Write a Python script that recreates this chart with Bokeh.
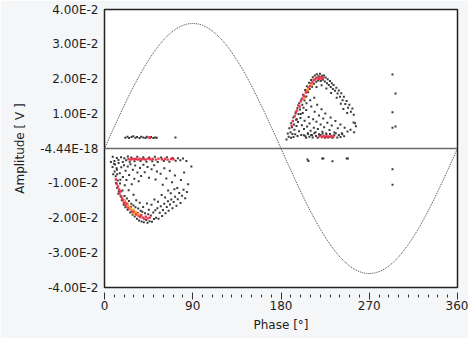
from bokeh.plotting import figure
from bokeh.models import FixedTicker, Span, ColumnDataSource
from bokeh.embed import file_html
from bokeh.resources import INLINE

# ---------------- data ----------------
phase_ticks = [0, 90, 180, 270, 360]
phase_minor_ticks = list(range(0, 361, 10))
amp_ticks = [-0.04, -0.03, -0.02, -0.01, 0.0, 0.01, 0.02, 0.03, 0.04]
amp_tick_labels = ["-4.00E-2", "-3.00E-2", "-2.00E-2", "-1.00E-2", "-4.44E-18",
                   "1.00E-2", "2.00E-2", "3.00E-2", "4.00E-2"]

# reference sine (mV), every 5 degrees
sine_phase = list(range(0, 361, 5))
sine_mv = [0, 3.14, 6.25, 9.32, 12.31, 15.21, 18.00, 20.65, 23.14, 25.46, 27.58, 29.49,
           31.18, 32.63, 33.83, 34.77, 35.45, 35.86, 36.00,
           35.86, 35.45, 34.77, 33.83, 32.63, 31.18, 29.49, 27.58, 25.46, 23.14, 20.65,
           18.00, 15.21, 12.31, 9.32, 6.25, 3.14, 0,
           -3.14, -6.25, -9.32, -12.31, -15.21, -18.00, -20.65, -23.14, -25.46, -27.58,
           -29.49, -31.18, -32.63, -33.83, -34.77, -35.45, -35.86, -36.00,
           -35.86, -35.45, -34.77, -33.83, -32.63, -31.18, -29.49, -27.58, -25.46, -23.14,
           -20.65, -18.00, -15.21, -12.31, -9.32, -6.25, -3.14, 0]

# PD pulses (phase in degrees, amplitude in mV); low count = black
neg_curve_black = [(6.5, -3.9), (8.2, -5.3), (9.6, -4.4), (10.3, -6.6), (8.9, -7.4), (11.4, -8.0),
                   (12.7, -6.1), (11.8, -9.9), (13.5, -9.2), (12.9, -11.3), (14.6, -12.4),
                   (15.8, -10.1), (16.4, -13.6), (14.1, -13.0), (17.7, -14.9), (18.3, -12.1),
                   (19.6, -16.2), (20.4, -13.7), (21.3, -16.9), (22.8, -14.4), (23.5, -17.6),
                   (24.9, -15.1), (26.2, -18.4), (27.4, -15.9), (28.7, -19.1), (29.5, -16.4),
                   (30.8, -19.6), (31.6, -16.9), (33.1, -20.2), (34.4, -17.3), (35.2, -20.7),
                   (36.9, -17.9), (37.8, -21.0), (38.6, -18.2), (40.1, -21.2), (41.3, -18.6),
                   (42.5, -20.6), (43.8, -21.4), (44.6, -18.9), (45.9, -20.9), (47.2, -19.3),
                   (48.4, -21.1), (49.7, -18.4), (50.5, -20.3), (51.8, -17.8), (52.6, -19.9),
                   (53.9, -17.2), (55.1, -20.2), (56.3, -18.5), (57.4, -16.6), (58.8, -19.4),
                   (59.6, -17.7), (60.9, -15.9), (62.2, -18.6), (63.5, -16.8), (64.7, -15.2),
                   (65.4, -17.9), (66.8, -16.1), (68.1, -14.7), (69.3, -17.2), (70.6, -15.4),
                   (72.0, -13.9), (73.4, -16.5), (74.7, -14.6), (76.2, -12.8), (77.5, -15.7),
                   (79.1, -13.6), (80.6, -11.9), (82.3, -14.3), (84.0, -12.5), (45.2, -17.6),
                   (39.4, -16.8), (47.9, -16.2), (54.6, -15.3), (61.8, -14.1), (67.5, -12.9),
                   (58.3, -13.4), (50.9, -14.7), (43.3, -15.8), (71.3, -11.7), (35.9, -15.6),
                   (32.4, -14.9)]
neg_inner_black = [(10.8, -4.6), (12.3, -5.7), (14.4, -4.2), (15.6, -7.1), (17.1, -5.4), (18.8, -8.2),
                   (19.9, -4.8), (21.5, -6.4), (22.4, -9.1), (23.7, -5.2), (25.1, -7.6), (26.5, -4.5),
                   (27.8, -10.3), (28.9, -6.1), (30.4, -8.7), (31.3, -4.9), (33.6, -6.9),
                   (34.9, -9.4), (36.2, -5.6), (37.3, -7.9), (39.7, -4.7), (41.0, -6.8),
                   (43.9, -5.3), (45.3, -8.4), (48.0, -6.0), (50.7, -4.8), (52.1, -8.9),
                   (53.5, -6.6), (57.2, -7.3), (59.4, -10.4), (61.0, -5.7), (63.1, -8.6),
                   (64.9, -12.1), (66.6, -6.4), (68.9, -9.7), (71.8, -7.8), (74.2, -11.4),
                   (77.9, -9.1), (81.2, -6.9), (85.3, -10.3), (88.6, -5.2), (16.2, -9.0),
                   (20.7, -10.6), (24.6, -12.0), (29.6, -13.3), (12.9, -7.4)]
neg_stripe_black = [(8.4, -2.4), (10.1, -3.6), (12.6, -2.7), (14.2, -3.3), (16.9, -2.5), (18.7, -3.9),
                    (20.3, -2.8), (22.1, -3.4), (23.8, -2.3), (25.7, -3.8), (27.3, -2.6), (30.6, -3.7),
                    (33.4, -2.4), (36.7, -3.6), (39.5, -2.5), (42.8, -3.8), (45.6, -2.6), (48.7, -3.7),
                    (51.4, -2.4), (54.3, -3.9), (57.8, -2.6), (60.5, -3.6), (63.6, -2.5), (66.2, -3.8),
                    (69.4, -2.7), (72.6, -3.5), (74.9, -2.8), (77.3, -3.4), (80.1, -2.9), (83.5, -3.6)]
pos_stripe_black = [(21.2, 3.1), (23.4, 3.4), (25.1, 3.0), (27.6, 3.3), (29.3, 3.5), (31.5, 3.1),
                    (33.2, 3.3), (35.7, 3.0), (37.4, 3.4), (39.6, 3.2), (41.8, 3.0), (43.1, 3.4),
                    (47.5, 3.3), (49.8, 3.0), (51.6, 3.2), (53.3, 3.1), (72.4, 3.2)]
pos_arc_black = [(185.6, 2.6), (186.9, 4.3), (187.8, 3.4), (188.5, 5.8), (189.7, 4.7), (190.4, 7.3),
                 (191.2, 6.1), (192.6, 8.9), (193.3, 6.9), (194.8, 10.1), (195.5, 8.3), (196.7, 11.6),
                 (197.9, 9.9), (198.6, 13.0), (199.4, 11.2), (200.8, 14.1), (201.7, 12.6),
                 (202.5, 15.5), (203.9, 13.8), (204.6, 16.8), (205.8, 15.0), (206.4, 17.9),
                 (207.7, 16.2), (208.5, 18.9), (209.3, 17.1), (210.6, 19.7), (211.8, 17.8),
                 (212.4, 20.5), (213.7, 18.6), (214.5, 21.0), (215.9, 19.2), (216.6, 21.4),
                 (217.8, 19.6), (218.4, 20.8), (219.7, 21.5), (220.5, 19.4), (221.9, 20.9),
                 (222.6, 19.8), (223.8, 21.0), (224.7, 19.3), (225.5, 20.4), (226.9, 18.8),
                 (227.6, 19.9), (228.8, 18.3), (229.9, 19.4), (230.7, 17.7), (231.8, 18.8),
                 (232.9, 17.1), (233.6, 18.3), (235.1, 16.6), (236.4, 17.5), (237.7, 15.8),
                 (238.9, 16.7), (240.2, 14.9), (241.5, 15.9), (242.8, 13.9), (244.1, 14.9),
                 (245.6, 12.8), (246.9, 13.7), (248.4, 11.7), (249.7, 12.6), (251.3, 10.6),
                 (252.8, 11.5), (254.2, 9.7), (255.6, 7.3), (256.4, 6.4), (241.0, 12.9),
                 (236.8, 14.6), (231.1, 16.0), (226.3, 17.3), (221.4, 18.2), (216.2, 17.7),
                 (243.6, 11.4), (247.5, 10.2)]
pos_inner_black = [(190.2, 3.1), (191.6, 4.2), (192.8, 3.3), (193.7, 5.4), (194.5, 4.1), (195.8, 6.5),
                   (196.9, 3.6), (197.3, 7.6), (198.4, 5.0), (199.8, 8.8), (200.6, 3.9), (201.3, 6.7),
                   (202.2, 10.2), (203.4, 5.6), (204.1, 8.0), (204.9, 3.5), (205.7, 11.1),
                   (206.6, 6.3), (207.4, 4.4), (208.3, 9.1), (209.1, 7.2), (210.2, 5.1), (210.9, 12.1),
                   (211.7, 3.8), (212.8, 8.4), (213.5, 6.0), (214.3, 10.6), (215.2, 4.7), (216.1, 7.7),
                   (216.9, 12.6), (217.6, 5.6), (218.7, 9.5), (219.5, 3.9), (220.4, 6.9),
                   (221.3, 11.3), (222.2, 4.8), (223.1, 8.6), (224.0, 6.1), (225.2, 10.1),
                   (226.1, 4.3), (227.3, 7.4), (229.4, 5.3), (230.6, 8.9), (231.7, 6.6),
                   (234.4, 4.6), (235.5, 7.9), (237.9, 5.8), (240.6, 6.9), (242.0, 4.4),
                   (244.9, 6.0), (247.8, 4.9), (250.9, 5.4), (254.6, 4.7), (196.1, 8.4),
                   (200.1, 9.9), (203.0, 11.7), (206.0, 13.0), (209.8, 13.9), (213.9, 14.6)]
pos_base_black = [(203.4, 3.8), (205.6, 3.1), (207.5, 4.2), (208.9, 3.4), (210.7, 3.9), (212.3, 3.2),
                  (214.0, 4.4), (215.7, 3.6), (217.4, 3.1), (218.8, 4.1), (220.3, 3.9), (222.4, 4.3),
                  (224.6, 3.1), (226.2, 4.0), (228.1, 3.2), (230.0, 4.2), (232.3, 3.1), (234.3, 3.8),
                  (235.8, 4.4), (237.4, 3.2), (239.0, 3.9), (240.7, 3.3), (242.5, 4.1), (244.4, 3.5)]
isolated_black = [(293.7, 21.3), (296.8, 15.8), (293.7, 10.4), (293.7, 6.0), (296.8, 6.3),
                  (293.7, -6.0), (293.7, -10.4), (254.0, 7.5), (207.0, -3.2), (208.0, -3.6),
                  (232.5, -3.7), (222.0, -2.9), (223.2, -2.9), (247.0, -2.9), (248.2, -2.9)]

# medium count = red
neg_red = [(24.5, -3.0), (26.8, -3.2), (28.4, -2.9), (30.0, -3.1), (31.9, -3.0), (34.1, -3.2),
           (35.8, -2.9), (37.9, -3.1), (40.4, -3.0), (42.0, -3.2), (44.3, -2.9), (46.7, -3.1),
           (49.2, -3.0), (52.5, -3.2), (55.1, -2.9), (58.6, -3.1), (61.7, -3.0), (64.4, -3.2),
           (67.8, -3.0), (70.3, -3.1),
           (11.6, -8.9), (12.5, -10.2), (13.8, -10.9), (14.9, -11.8), (15.3, -12.9), (16.6, -12.3),
           (17.2, -13.9), (18.0, -14.4), (19.1, -14.9), (19.8, -15.6), (21.0, -15.4), (21.7, -16.2),
           (22.6, -16.6), (23.2, -15.9), (24.3, -17.1), (25.4, -17.4), (26.8, -16.8), (27.9, -17.9),
           (28.6, -18.3), (30.1, -18.1), (31.2, -18.8), (32.7, -19.0), (33.9, -18.6), (35.0, -19.4),
           (36.4, -19.7), (37.5, -19.2), (39.0, -19.9), (40.6, -20.2), (42.1, -19.6), (44.0, -20.1),
           (46.3, -19.9)]
pos_red = [(45.0, 3.2), (46.2, 3.1),
           (219.2, 3.5), (221.6, 3.3), (223.5, 3.6), (225.8, 3.3), (227.7, 3.5), (229.6, 3.4),
           (231.5, 3.6), (233.2, 3.3),
           (190.9, 6.5), (192.1, 7.9), (193.9, 9.3), (195.2, 10.5), (196.3, 10.9), (197.5, 12.4),
           (199.0, 12.1), (200.3, 13.6), (201.9, 14.4), (203.2, 15.2), (204.0, 14.7), (205.3, 16.1),
           (206.9, 16.6), (208.0, 17.6), (209.7, 18.0), (210.9, 18.7), (212.0, 19.1), (213.3, 19.7),
           (214.8, 19.9), (216.0, 20.3), (217.3, 20.4), (218.9, 20.0), (220.1, 20.6), (221.2, 20.1),
           (222.9, 20.3)]

# high count = orange
neg_orange = [(20.6, -15.0), (23.9, -16.4), (26.1, -17.2), (29.3, -17.6), (31.9, -18.3),
              (34.6, -18.9), (29.9, -18.9)]
pos_orange = [(203.6, 14.4), (207.1, 17.0), (211.4, 18.3)]


def to_source(*groups):
    pts = [pt for g in groups for pt in g]
    return ColumnDataSource(data=dict(phase=[q[0] for q in pts],
                                      amp=[q[1] / 1000.0 for q in pts]))


black_src = to_source(neg_curve_black, neg_inner_black, neg_stripe_black, pos_stripe_black,
                      pos_arc_black, pos_inner_black, pos_base_black, isolated_black)
red_src = to_source(neg_red, pos_red)
orange_src = to_source(neg_orange, pos_orange)
sine_src = ColumnDataSource(data=dict(phase=sine_phase, amp=[v / 1000.0 for v in sine_mv]))

# ---------------- figure ----------------
FONT = "DejaVu Sans"
TXT = "#1e1e1e"

p = figure(width=468, height=338, x_range=(0, 360), y_range=(-0.04, 0.04),
           output_backend="svg", toolbar_location=None,
           min_border_left=104, min_border_right=11, min_border_top=9, min_border_bottom=51,
           background_fill_color="white", border_fill_color="#f5f6f8")
p.outline_line_color = "#222222"
p.outline_line_width = 1.5
p.grid.visible = False

# x axis
xa = p.xaxis[0]
xa.ticker = FixedTicker(ticks=phase_ticks, minor_ticks=phase_minor_ticks)
xa.axis_line_color = None
xa.major_tick_in = -5
xa.major_tick_out = 12
xa.minor_tick_in = -7
xa.minor_tick_out = 10
xa.major_tick_line_color = "#333333"
xa.minor_tick_line_color = "#333333"
xa.major_label_standoff = 1
xa.major_label_text_font = FONT
xa.major_label_text_font_size = "12px"
xa.major_label_text_color = TXT
xa.axis_label = "Phase [°]"
xa.axis_label_text_font = FONT
xa.axis_label_text_font_size = "12px"
xa.axis_label_text_font_style = "normal"
xa.axis_label_text_color = TXT
xa.axis_label_standoff = 5

# y axis
ya = p.yaxis[0]
ya.ticker = FixedTicker(ticks=amp_ticks, minor_ticks=[])
ya.major_label_overrides = {t: lab for t, lab in zip(amp_ticks, amp_tick_labels)}
ya.axis_line_color = None
ya.major_tick_in = 0
ya.major_tick_out = 0
ya.minor_tick_in = 0
ya.minor_tick_out = 0
ya.major_label_standoff = 6
ya.major_label_text_font = FONT
ya.major_label_text_font_size = "12px"
ya.major_label_text_color = TXT
ya.axis_label = "Amplitude [ V ]"
ya.axis_label_text_font = FONT
ya.axis_label_text_font_size = "12px"
ya.axis_label_text_font_style = "normal"
ya.axis_label_text_color = TXT
ya.axis_label_standoff = 10

# zero line
p.add_layout(Span(location=0, dimension="width", line_color="#6a6a6a", line_width=1.5))

# reference sine
p.line("phase", "amp", source=sine_src, line_color="#444444", line_width=1, line_dash="1 1")

# PD pattern
p.scatter("phase", "amp", source=black_src, marker="square", size=2,
          fill_color="#3a3a3a", line_color=None)
p.scatter("phase", "amp", source=red_src, marker="square", size=2.4,
          fill_color="#e8334a", line_color=None)
p.scatter("phase", "amp", source=orange_src, marker="square", size=2.4,
          fill_color="#f2a030", line_color=None)

open("out.html", "w").write(file_html(p, INLINE))
